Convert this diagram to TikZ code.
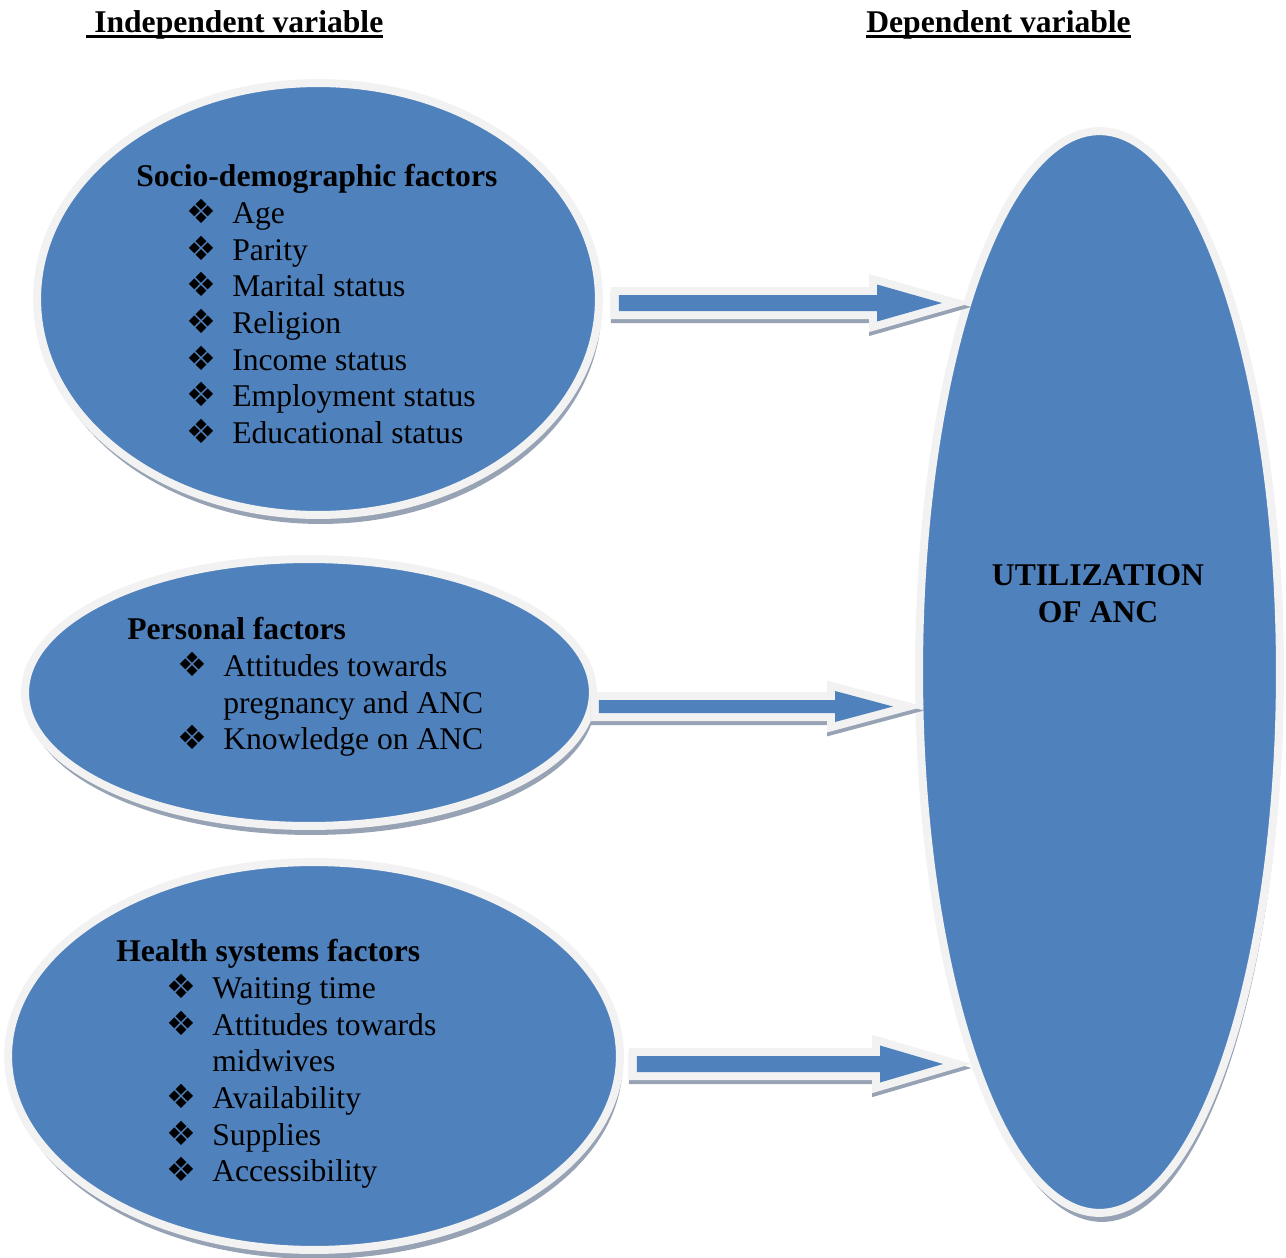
\documentclass[tikz,border=0pt]{standalone}
\usepackage{fontspec}
\setmainfont{Liberation Serif}
\newfontfamily\dingfont{DejaVu Sans}
\usetikzlibrary{calc,shapes.geometric,shadows}

\definecolor{ancblue}{HTML}{4F81BD}
\definecolor{rim}{HTML}{F2F2F2}
\definecolor{shadowgrey}{HTML}{97A3B4}

\newsavebox{\ulbox}
\newcommand{\ulined}[1]{\sbox{\ulbox}{#1}\rlap{\rule[-3.4pt]{\wd\ulbox}{1.7pt}}\usebox{\ulbox}}
\newcommand{\bul}{{\dingfont\fontsize{19}{20.9}\selectfont ❖}}
\newcommand{\itm}[1]{\hspace*{1.0cm}\makebox[0.92cm][l]{\bul}#1}
\newcommand{\cont}[1]{\hspace*{1.92cm}#1}
% block arrow: start of shaft, tip, shaft half width, head half width, head length
\newcommand{\blockarrow}[5]{%
  \foreach \sty in {arrowshadow,arrowrim,arrowbody}
    \path[\sty] ($(#1)+(0,-#3)$) -- ($(#2)+(-#5,-#3)$) -- ($(#2)+(-#5,-#4)$) -- (#2)
      -- ($(#2)+(-#5,#4)$) -- ($(#2)+(-#5,#3)$) -- ($(#1)+(0,#3)$) -- cycle;}

\tikzset{
  bubble/.style={ellipse, fill=ancblue, draw=rim, line width=0.16cm, inner sep=0pt,
    drop shadow={shadow xshift=0.05cm, shadow yshift=-0.18cm, fill=shadowgrey, opacity=1}},
  factors/.style={anchor=north west, align=left, inner sep=0pt,
    font=\fontsize{18}{20.9}\selectfont},
  heading/.style={anchor=base west, inner sep=0pt, font=\fontsize{18}{21}\selectfont\bfseries},
  arrowshadow/.style={draw=shadowgrey, fill=shadowgrey, line width=0.32cm,
    transform canvas={yshift=-0.08cm}},
  arrowrim/.style={draw=rim, fill=rim, line width=0.32cm},
  arrowbody/.style={fill=ancblue}
}

\begin{document}
\begin{tikzpicture}[x=0.02cm,y=-0.02cm]
  \useasboundingbox (0,0) rectangle (1286,1258);

  % headings
  \node[heading] (indep) at (86,32) {\ulined{\ Independent variable}};
  \node[heading] (dep) at (866,32) {\ulined{Dependent variable}};

  % ellipses
  \node[bubble, minimum width=11.24cm, minimum height=8.64cm] (socio) at (318,299) {};
  \node[bubble, minimum width=11.36cm, minimum height=5.34cm] (personal) at (309,692.5) {};
  \node[bubble, minimum width=12.24cm, minimum height=7.76cm] (health) at (314,1056) {};
  \node[bubble, minimum width=7.22cm, minimum height=21.64cm] (util) at (1099.5,672) {};

  % texts
  \node[factors] (sociotxt) at (136,164) {\textbf{Socio-demographic factors}\\
    \itm{Age}\\ \itm{Parity}\\ \itm{Marital status}\\ \itm{Religion}\\
    \itm{Income status}\\ \itm{Employment status}\\ \itm{Educational status}};
  \node[factors] (personaltxt) at (127,617) {\textbf{Personal factors}\\
    \itm{Attitudes towards}\\ \cont{pregnancy and ANC}\\ \itm{Knowledge on ANC}};
  \node[factors] (healthtxt) at (116,939) {\textbf{Health systems factors}\\
    \itm{Waiting time}\\ \itm{Attitudes towards}\\ \cont{midwives}\\
    \itm{Availability}\\ \itm{Supplies}\\ \itm{Accessibility}};
  \node[factors, anchor=north, align=center,
    font=\fontsize{18}{21.1}\selectfont\bfseries] (utiltxt) at (1098,564) {UTILIZATION\\OF ANC};

  % arrows
  \coordinate (s1) at ($(socio.east)+(16,4)$);
  \coordinate (t1) at (942,303);
  \coordinate (s2) at ($(personal.east)+(2,14)$);
  \coordinate (t2) at (893,706.5);
  \coordinate (s3) at ($(health.east)+(13,8)$);
  \coordinate (t3) at (943,1064);
  \blockarrow{s1}{t1}{8}{18.5}{65}
  \blockarrow{s2}{t2}{6.5}{15.5}{58}
  \blockarrow{s3}{t3}{8}{18.5}{63}
\end{tikzpicture}
\end{document}
